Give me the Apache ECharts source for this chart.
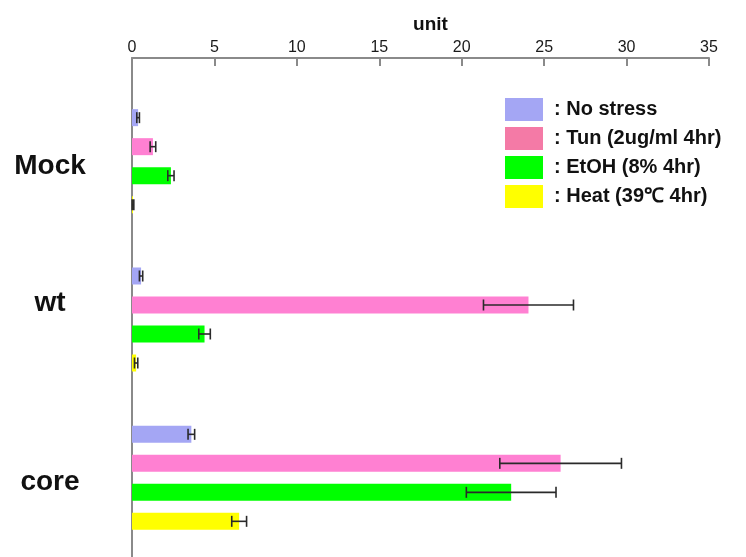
<!DOCTYPE html>
<html>
<head>
<meta charset="utf-8">
<script src="https://cdn.jsdelivr.net/npm/echarts@6/dist/echarts.min.js"></script>
<style>
  html, body { margin: 0; padding: 0; background: #fff; }
  #chart { width: 746px; height: 557px; }
</style>
</head>
<body>
<div id="chart"></div>
<script>
// Samples and stress treatments
const categories = ['Mock', 'wt', 'core'];
const seriesNames = ['No stress', 'Tun (2ug/ml 4hr)', 'EtOH (8% 4hr)', 'Heat (39\u2103 4hr)'];

// Mean values per sample (unit)
const noStress = [0.37, 0.55, 3.6];
const tun      = [1.27, 24.05, 26.0];
const etoh     = [2.36, 4.4, 23.0];
const heat     = [0.06, 0.25, 6.5];

// Error (± deviation) per sample
const noStressErr = [0.08, 0.1, 0.2];
const tunErr      = [0.17, 2.73, 3.69];
const etohErr     = [0.19, 0.35, 2.72];
const heatErr     = [0.05, 0.1, 0.45];

const xTicks = { min: 0, max: 35, interval: 5 };

const values = [noStress, tun, etoh, heat];
const errors = [noStressErr, tunErr, etohErr, heatErr];
const barColors = ['#a4a6f4', '#ff80d2', '#00ff00', '#ffff00'];
const legendColors = ['#a4a6f4', '#f47aa6', '#00ff00', '#ffff00'];

const BAR_W = 17;
const BAR_GAP = 12;
const FONT = 'Liberation Sans, Arial, sans-serif';

const chart = echarts.init(document.getElementById('chart'));

const barSeries = values.map((vals, i) => ({
  name: seriesNames[i],
  type: 'bar',
  xAxisIndex: 0,
  yAxisIndex: 0,
  barWidth: BAR_W,
  barGap: (BAR_GAP / BAR_W * 100).toFixed(1) + '%',
  itemStyle: { color: barColors[i] },
  data: vals,
  z: 2
}));

// Horizontal error bars with end caps, one per bar
const errSeries = values.map((vals, i) => ({
  name: seriesNames[i],
  type: 'custom',
  xAxisIndex: 0,
  yAxisIndex: 0,
  z: 5,
  silent: true,
  data: vals.map((v, k) => [v - errors[i][k], v + errors[i][k], k]),
  renderItem: function (params, api) {
    const n = values.length;
    const total = n * BAR_W + (n - 1) * BAR_GAP;
    const off = -total / 2 + i * (BAR_W + BAR_GAP) + BAR_W / 2;
    const lo = api.coord([api.value(0), api.value(2)]);
    const hi = api.coord([api.value(1), api.value(2)]);
    const y = lo[1] + off;
    const cap = 5.5;
    const style = { stroke: '#2a2a2a', lineWidth: 1.6 };
    return {
      type: 'group',
      children: [
        { type: 'line', shape: { x1: lo[0], y1: y, x2: hi[0], y2: y }, style: style },
        { type: 'line', shape: { x1: lo[0], y1: y - cap, x2: lo[0], y2: y + cap }, style: style },
        { type: 'line', shape: { x1: hi[0], y1: y - cap, x2: hi[0], y2: y + cap }, style: style }
      ]
    };
  }
}));

// Sample labels sit slightly off their band centres
const labelStyle = { fontFamily: FONT, fontWeight: 'bold', fontSize: 28, color: '#111' };

chart.setOption({
  backgroundColor: '#ffffff',
  animation: false,
  grid: [
    { left: 132, right: 37, top: 82, bottom: -1 },
    { left: 132, right: 37, top: 58, bottom: 0 }
  ],
  legend: {
    orient: 'vertical',
    left: 505,
    top: 98,
    padding: 0,
    itemWidth: 38,
    itemHeight: 23,
    itemGap: 6,
    icon: 'rect',
    data: seriesNames.map((n, i) => ({ name: n, itemStyle: { color: legendColors[i] } })),
    formatter: name => ': ' + name,
    textStyle: {
      fontFamily: FONT,
      fontWeight: 'bold',
      fontSize: 20,
      color: '#111',
      padding: [0, 0, 0, 6]
    }
  },
  xAxis: [
    {
      gridIndex: 0,
      type: 'value',
      min: xTicks.min, max: xTicks.max, interval: xTicks.interval,
      show: false
    },
    {
      gridIndex: 1,
      type: 'value',
      position: 'top',
      min: xTicks.min, max: xTicks.max, interval: xTicks.interval,
      name: 'unit',
      nameLocation: 'middle',
      nameGap: 24,
      nameTextStyle: {
        fontFamily: FONT,
        fontWeight: 'bold',
        fontSize: 19,
        color: '#111',
        padding: [0, 0, 0, 20]
      },
      axisLine: { show: true, onZero: false, lineStyle: { color: '#8a8a8a', width: 2 } },
      axisTick: { show: true, inside: true, length: 8, lineStyle: { color: '#8a8a8a', width: 2 } },
      axisLabel: {
        margin: 2,
        fontFamily: FONT,
        fontSize: 16,
        color: '#1a1a1a'
      },
      splitLine: { show: false }
    }
  ],
  yAxis: [
    {
      gridIndex: 0,
      type: 'category',
      inverse: true,
      data: categories,
      axisLine: { show: false },
      axisTick: { show: false },
      axisLabel: {
        align: 'center',
        margin: 82,
        formatter: (v, idx) => '{c' + idx + '|' + v + '}',
        rich: {
          c0: Object.assign({ padding: [10, 0, 0, 0] }, labelStyle),
          c1: Object.assign({ padding: [0, 0, 32, 0] }, labelStyle),
          c2: Object.assign({ padding: [8, 0, 0, 0] }, labelStyle)
        }
      }
    },
    {
      gridIndex: 1,
      type: 'value',
      axisLine: { show: true, onZero: false, lineStyle: { color: '#8a8a8a', width: 2 } },
      axisTick: { show: false },
      axisLabel: { show: false },
      splitLine: { show: false }
    }
  ],
  series: barSeries.concat(errSeries)
});
</script>
</body>
</html>
